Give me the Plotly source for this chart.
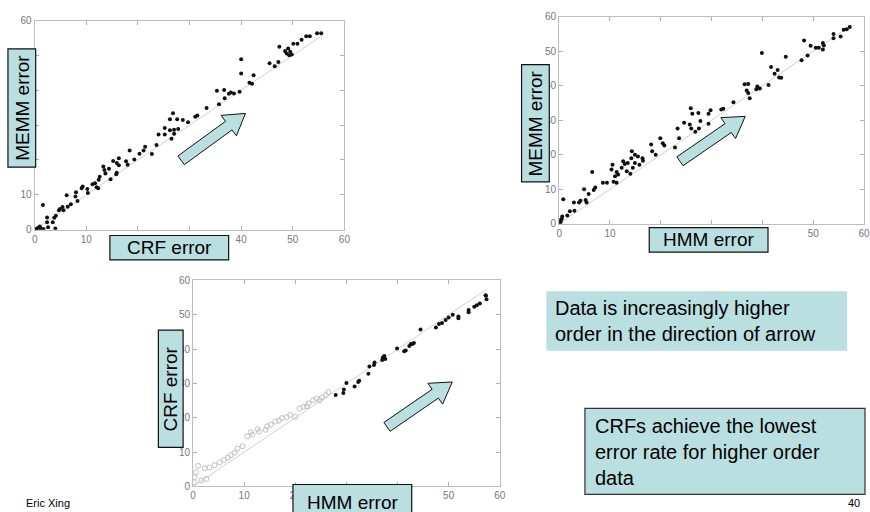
import math
import plotly.graph_objects as go

# ---------------- data ----------------
# Plot 1: CRF error (x) vs MEMM error (y)
crf_memm_x = [55.5, 54.7, 53.3, 52.6, 51.7, 50.9, 50.1, 47.4, 49.1, 48.5, 49.5, 49.3, 49.8, 48.8,
              40.0, 45.5, 47.2, 46.5, 40.0, 42.4, 41.6, 42.1, 35.3, 36.7, 38.0, 37.6, 38.6, 39.7,
              36.8, 35.7, 33.3, 31.5, 31.1, 26.8, 27.6, 28.7, 26.2, 29.7, 25.2, 26.2, 27.0, 27.8,
              24.0, 25.2, 26.5, 27.0, 23.6, 21.4, 21.1, 20.3, 22.7, 18.4, 19.3, 17.7, 18.0, 15.2,
              16.3, 15.9, 16.3, 15.9, 15.8, 14.7, 13.3, 13.5, 14.4, 13.7, 12.6, 12.4, 11.7, 12.0,
              12.3, 11.2, 9.3, 10.2, 9.1, 10.3, 8.0, 6.2, 7.9, 8.3, 7.0, 6.4, 5.4, 4.9, 5.6, 4.7,
              1.6, 4.1, 3.8, 3.5, 4.0, 2.4, 2.4, 2.6, 1.7, 1.0, 0.6, 0.3, 1.1, 0.2]
crf_memm_y = [56.4, 56.4, 55.5, 55.5, 54.5, 53.4, 53.4, 52.5, 52.0, 51.3, 51.1, 50.1, 50.3, 50.6,
              48.9, 47.8, 48.1, 46.9, 44.8, 44.3, 42.2, 41.9, 39.9, 40.1, 39.4, 39.0, 39.1, 39.6,
              37.7, 36.0, 34.9, 32.8, 32.4, 33.4, 31.7, 31.5, 31.7, 30.8, 29.2, 28.5, 28.7, 28.9,
              27.3, 27.3, 26.1, 27.5, 24.3, 23.8, 22.7, 21.8, 21.7, 22.7, 20.1, 19.6, 18.6, 19.7,
              20.5, 19.1, 18.5, 16.3, 15.9, 14.5, 18.1, 17.1, 17.5, 16.1, 15.2, 14.3, 13.3, 12.2,
              11.9, 13.0, 12.4, 11.7, 11.9, 10.5, 10.7, 9.9, 9.5, 8.2, 7.3, 6.6, 6.5, 5.9, 5.6, 5.6,
              7.1, 4.0, 3.4, 2.1, 0.3, 3.5, 2.1, 0.7, 0.2, 0.9, 0.5, 0.2, 0.4, 0.0]

# Plot 2: HMM error (x) vs MEMM error (y)
hmm_memm_x = [57.2, 56.6, 56.0, 55.4, 54.0, 54.0, 48.2, 49.5, 50.5, 51.1, 51.9, 52.1, 51.9, 48.9,
              47.7, 39.9, 44.6, 41.7, 42.4, 43.0, 43.3, 43.7, 41.2, 36.5, 37.2, 36.9, 37.2, 37.5,
              39.0, 39.5, 38.8, 34.3, 32.3, 31.9, 29.8, 29.4, 25.9, 26.2, 27.4, 27.8, 24.6, 25.7,
              26.0, 26.8, 27.5, 29.4, 23.3, 23.6, 19.9, 20.4, 20.7, 22.8, 18.1, 18.3, 19.0, 14.3,
              14.9, 14.2, 15.5, 16.4, 16.5, 14.9, 15.8, 14.5, 12.6, 12.9, 13.5, 12.3, 13.3, 14.0,
              10.5, 10.3, 11.3, 11.6, 11.0, 11.3, 10.7, 9.4, 8.6, 6.5, 7.1, 6.8, 4.9, 5.8, 5.2, 5.4,
              4.2, 3.9, 2.9, 3.0, 2.1, 1.6, 0.8, 0.6, 0.5, 0.2, 0.3, 0.0]
hmm_memm_y = [57.0, 56.4, 56.2, 54.3, 55.0, 53.8, 53.1, 51.6, 51.0, 51.0, 52.4, 51.7, 50.5, 48.8,
              47.4, 49.5, 48.4, 45.4, 43.5, 44.6, 42.4, 42.3, 40.2, 40.4, 40.5, 38.6, 37.9, 36.4,
              39.8, 39.2, 39.0, 35.2, 33.3, 33.1, 32.9, 31.9, 33.5, 31.9, 32.1, 29.8, 29.3, 28.8,
              27.6, 26.7, 27.6, 29.0, 27.6, 24.8, 24.8, 23.3, 22.7, 22.1, 23.0, 21.0, 20.0, 21.0,
              20.0, 19.0, 19.5, 19.0, 18.3, 17.6, 17.1, 16.2, 18.1, 17.3, 17.6, 16.2, 15.2, 14.5,
              17.1, 15.7, 15.0, 14.3, 13.8, 11.9, 12.2, 11.9, 11.9, 15.0, 10.5, 9.8, 10.0, 8.6, 6.9,
              6.2, 6.7, 6.2, 6.2, 3.8, 3.6, 2.4, 7.1, 2.1, 1.4, 1.0, 0.5, 0.2]

# Plot 3: HMM error (x) vs CRF error (y); higher-order (filled) and low-order (hollow) data
hmm_crf_hi_x = [57.3, 57.4, 57.2, 56.1, 55.5, 55.0, 53.9, 53.9, 51.9, 51.9, 50.8, 50.0, 49.4, 48.7,
                48.1, 47.5, 44.5, 43.2, 42.9, 42.6, 42.3, 41.3, 41.6, 39.9, 37.4, 37.1, 37.6, 37.0,
                35.5, 35.4, 34.5, 34.3, 32.5, 32.3, 31.6, 30.0, 29.5, 29.4, 27.9]
hmm_crf_hi_y = [55.5, 54.5, 55.7, 53.3, 52.8, 52.3, 51.4, 50.7, 49.5, 49.0, 50.0, 49.2, 48.5, 47.6,
                47.3, 46.3, 45.7, 41.8, 41.5, 41.5, 40.9, 39.4, 39.6, 40.2, 38.0, 37.5, 37.1, 36.8,
                36.1, 35.4, 34.9, 32.8, 30.8, 30.4, 29.1, 30.1, 28.2, 27.2, 26.6]
hmm_crf_lo_x = [26.5, 26.0, 25.2, 24.2, 23.5, 22.6, 21.6, 20.8, 20.0, 18.3, 17.4, 16.1, 15.2, 14.5,
                14.2, 12.9, 11.6, 11.3, 10.6, 9.7, 8.7, 7.4, 6.8, 6.1, 5.2, 4.2, 3.2, 2.3, 1.0, 0.6,
                0.3, 0.2, 1.6, 2.6, 8.1, 12.6, 16.8, 19.0, 22.3, 24.8]
hmm_crf_lo_y = [27.5, 26.6, 25.9, 25.6, 25.1, 24.2, 23.2, 22.7, 20.3, 20.2, 19.9, 18.9, 18.0, 17.5,
                16.5, 16.0, 15.1, 15.8, 14.6, 11.7, 11.0, 9.1, 8.4, 7.7, 7.0, 6.2, 5.5, 5.3, 6.0, 4.1,
                2.7, 1.2, 1.7, 2.2, 9.8, 16.7, 19.2, 20.8, 23.4, 25.1]

diag_ends = [56, 57.5, 57.5]          # end of the y = x reference line in each panel
tick_values = [0, 10, 20, 30, 40, 50, 60]

# ---------------- layout helpers ----------------
W, H = 870, 512
def px(x):
    return x / W
def py(y):
    return 1 - y / H

BOX = "#b9dfe1"
FONT = "Arial, Liberation Sans, sans-serif"

fig = go.Figure()

panels = [
    ("x", "y", crf_memm_x, crf_memm_y, diag_ends[0]),
    ("x2", "y2", hmm_memm_x, hmm_memm_y, diag_ends[1]),
]
for xa, ya, xs, ys, d in panels:
    fig.add_trace(go.Scatter(x=[0, d], y=[0, d], mode="lines", xaxis=xa, yaxis=ya,
                             line=dict(color="#d0d0d0", width=1), hoverinfo="skip"))
    fig.add_trace(go.Scatter(x=xs, y=ys, mode="markers", xaxis=xa, yaxis=ya,
                             marker=dict(size=4, color="#111111")))

fig.add_trace(go.Scatter(x=[0, diag_ends[2]], y=[0, diag_ends[2]], mode="lines", xaxis="x3", yaxis="y3",
                         line=dict(color="#d0d0d0", width=1), hoverinfo="skip"))
fig.add_trace(go.Scatter(x=hmm_crf_lo_x, y=hmm_crf_lo_y, mode="markers", xaxis="x3", yaxis="y3",
                         marker=dict(size=5, symbol="circle-open", color="#c0c0c0", line=dict(width=1))))
fig.add_trace(go.Scatter(x=hmm_crf_hi_x, y=hmm_crf_hi_y, mode="markers", xaxis="x3", yaxis="y3",
                         marker=dict(size=4, color="#111111")))

axis_common = dict(range=[0, 60], tickvals=tick_values, ticks="inside", ticklen=4, tickcolor="#b0b0b0",
                   showline=True, linecolor="#bdbdbd", linewidth=1, mirror="ticks",
                   showgrid=False, zeroline=False,
                   tickfont=dict(size=10, color="#777777", family=FONT))

fig.update_layout(
    width=W, height=H, margin=dict(l=0, r=0, t=0, b=0),
    paper_bgcolor="white", plot_bgcolor="white", showlegend=False,
    xaxis=dict(domain=[px(32), px(345)], anchor="y", **axis_common),
    yaxis=dict(domain=[py(229), py(15)], anchor="x", **axis_common),
    xaxis2=dict(domain=[px(562), 1.0], anchor="y2", **axis_common),
    yaxis2=dict(domain=[py(223), py(11)], anchor="x2", **axis_common),
    xaxis3=dict(domain=[px(192), px(502)], anchor="y3", **axis_common),
    yaxis3=dict(domain=[py(492), py(281)], anchor="x3", **axis_common),
)

shapes = []
annotations = []

def label_box(x0, y0, x1, y1, text, vertical=False, size=19, ty=None):
    shapes.append(dict(type="rect", xref="paper", yref="paper", layer="above",
                       x0=px(x0), x1=px(x1), y0=py(y1), y1=py(y0),
                       fillcolor=BOX, line=dict(color="#111111", width=1.2)))
    annotations.append(dict(xref="paper", yref="paper", x=px((x0 + x1) / 2),
                            y=py(ty if ty is not None else (y0 + y1) / 2),
                            xanchor="center", yanchor="middle", showarrow=False, text=text,
                            textangle=-90 if vertical else 0,
                            font=dict(size=size, color="black", family=FONT)))

label_box(5, 44, 33, 165, "MEMM error", vertical=True)
label_box(108, 235, 228, 260, "CRF error")
label_box(524, 60, 552, 180, "MEMM error", vertical=True)
label_box(653, 227, 773, 252, "HMM error")
label_box(157, 332, 182, 452, "CRF error", vertical=True)
label_box(293, 490, 413, 520, "HMM error", ty=508)

def arrow(tail, tip, shaft=11, head_w=26, head_l=21):
    tx, ty = tail
    hx, hy = tip
    L = math.hypot(hx - tx, hy - ty)
    ux, uy = (hx - tx) / L, (hy - ty) / L
    nx, ny = -uy, ux
    bx, by = hx - head_l * ux, hy - head_l * uy
    pts = [(tx + nx * shaft / 2, ty + ny * shaft / 2),
           (bx + nx * shaft / 2, by + ny * shaft / 2),
           (bx + nx * head_w / 2, by + ny * head_w / 2),
           (hx, hy),
           (bx - nx * head_w / 2, by - ny * head_w / 2),
           (bx - nx * shaft / 2, by - ny * shaft / 2),
           (tx - nx * shaft / 2, ty - ny * shaft / 2)]
    path = "M " + " L ".join(f"{px(a):.5f},{py(b):.5f}" for a, b in pts) + " Z"
    shapes.append(dict(type="path", xref="paper", yref="paper", layer="above", path=path,
                       fillcolor=BOX, line=dict(color="#111111", width=1)))

arrow((180, 158), (245, 110))
arrow((684, 159), (750, 113))
arrow((388, 431), (454, 385))

# text boxes
shapes.append(dict(type="rect", xref="paper", yref="paper", layer="above",
                   x0=px(549), x1=px(853), y0=py(353), y1=py(292),
                   fillcolor=BOX, line=dict(width=0)))
annotations.append(dict(xref="paper", yref="paper", x=px(556), y=py(323), xanchor="left", yanchor="middle",
                        align="left", showarrow=False,
                        text="Data is increasingly higher<br>order in the direction of arrow",
                        font=dict(size=20, color="black", family=FONT)))
shapes.append(dict(type="rect", xref="paper", yref="paper", layer="above",
                   x0=px(588), x1=px(871), y0=py(500), y1=py(412),
                   fillcolor=BOX, line=dict(color="#333333", width=1.2)))
annotations.append(dict(xref="paper", yref="paper", x=px(596), y=py(457), xanchor="left", yanchor="middle",
                        align="left", showarrow=False,
                        text="CRFs achieve the lowest<br>error rate for higher order<br>data",
                        font=dict(size=20, color="black", family=FONT)))

annotations.append(dict(xref="paper", yref="paper", x=px(21), y=py(509), xanchor="left", yanchor="middle",
                        showarrow=False, text="Eric Xing", font=dict(size=11, color="black", family=FONT)))
annotations.append(dict(xref="paper", yref="paper", x=px(868), y=py(509), xanchor="right", yanchor="middle",
                        showarrow=False, text="40", font=dict(size=11, color="black", family=FONT)))

fig.update_layout(shapes=shapes, annotations=annotations)
fig.write_html("out.html", config={"displayModeBar": False},
               post_script="document.body.style.margin='0px';")
